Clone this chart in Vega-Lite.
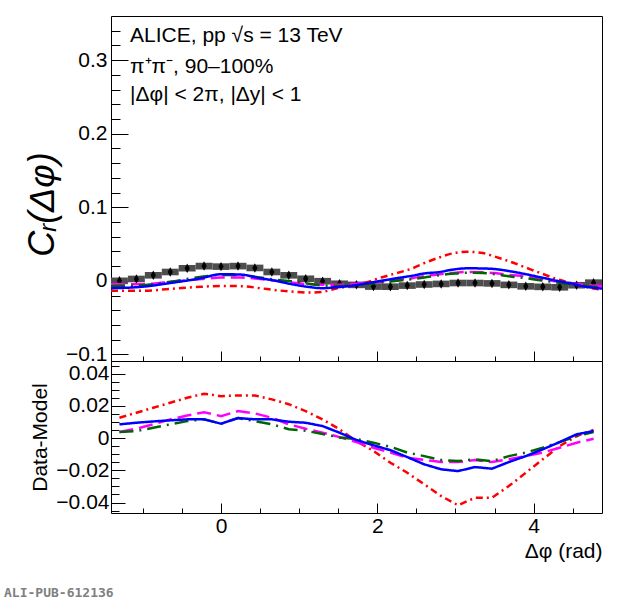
{
  "$schema": "https://vega.github.io/schema/vega-lite/v6.json",
  "description": "ALICE pp 13 TeV, pi+pi- 90-100%: C_R(dphi) with model curves and data-model residuals.",
  "padding": {"left": 4, "top": 15, "right": 19, "bottom": 5},
  "title": {
    "text": "ALI-PUB-612136",
    "orient": "bottom",
    "anchor": "start",
    "font": "DejaVu Sans Mono",
    "fontWeight": "bold",
    "fontSize": 13,
    "color": "#808080",
    "offset": 25,
    "dx": -20
  },
  "datasets": {
    "pts": [
      {"phi": -1.300, "b0": -1.408, "b1": -1.192, "c": 0.0, "slo": -0.0045, "shi": 0.0045, "elo": -0.0035, "ehi": 0.0035},
      {"phi": -1.083, "b0": -1.192, "b1": -0.975, "c": 0.0025, "slo": -0.002, "shi": 0.007, "elo": -0.001, "ehi": 0.006},
      {"phi": -0.867, "b0": -0.975, "b1": -0.758, "c": 0.0075, "slo": 0.003, "shi": 0.012, "elo": 0.004, "ehi": 0.011},
      {"phi": -0.650, "b0": -0.758, "b1": -0.542, "c": 0.012, "slo": 0.0075, "shi": 0.0165, "elo": 0.0085, "ehi": 0.0155},
      {"phi": -0.433, "b0": -0.542, "b1": -0.325, "c": 0.017, "slo": 0.0125, "shi": 0.0215, "elo": 0.0135, "ehi": 0.0205},
      {"phi": -0.217, "b0": -0.325, "b1": -0.108, "c": 0.020, "slo": 0.0155, "shi": 0.0245, "elo": 0.0165, "ehi": 0.0235},
      {"phi": 0.000, "b0": -0.108, "b1": 0.108, "c": 0.0193, "slo": 0.0148, "shi": 0.0238, "elo": 0.0158, "ehi": 0.0228},
      {"phi": 0.217, "b0": 0.108, "b1": 0.325, "c": 0.020, "slo": 0.0155, "shi": 0.0245, "elo": 0.0165, "ehi": 0.0235},
      {"phi": 0.433, "b0": 0.325, "b1": 0.542, "c": 0.0175, "slo": 0.013, "shi": 0.022, "elo": 0.014, "ehi": 0.021},
      {"phi": 0.650, "b0": 0.542, "b1": 0.758, "c": 0.012, "slo": 0.0075, "shi": 0.0165, "elo": 0.0085, "ehi": 0.0155},
      {"phi": 0.867, "b0": 0.758, "b1": 0.975, "c": 0.0075, "slo": 0.003, "shi": 0.012, "elo": 0.004, "ehi": 0.011},
      {"phi": 1.083, "b0": 0.975, "b1": 1.192, "c": 0.0028, "slo": -0.0017, "shi": 0.0073, "elo": -0.0007, "ehi": 0.0063},
      {"phi": 1.300, "b0": 1.192, "b1": 1.408, "c": -0.0005, "slo": -0.005, "shi": 0.004, "elo": -0.004, "ehi": 0.003},
      {"phi": 1.517, "b0": 1.408, "b1": 1.625, "c": -0.004, "slo": -0.0085, "shi": 0.0005, "elo": -0.0075, "ehi": -0.0005},
      {"phi": 1.733, "b0": 1.625, "b1": 1.842, "c": -0.0055, "slo": -0.010, "shi": -0.001, "elo": -0.009, "ehi": -0.002},
      {"phi": 1.950, "b0": 1.842, "b1": 2.058, "c": -0.0078, "slo": -0.0123, "shi": -0.0033, "elo": -0.0113, "ehi": -0.0043},
      {"phi": 2.167, "b0": 2.058, "b1": 2.275, "c": -0.008, "slo": -0.0125, "shi": -0.0035, "elo": -0.0115, "ehi": -0.0045},
      {"phi": 2.383, "b0": 2.275, "b1": 2.492, "c": -0.0065, "slo": -0.011, "shi": -0.002, "elo": -0.010, "ehi": -0.003},
      {"phi": 2.600, "b0": 2.492, "b1": 2.708, "c": -0.005, "slo": -0.0095, "shi": -0.0005, "elo": -0.0085, "ehi": -0.0015},
      {"phi": 2.817, "b0": 2.708, "b1": 2.925, "c": -0.0042, "slo": -0.0087, "shi": 0.0003, "elo": -0.0077, "ehi": -0.0007},
      {"phi": 3.033, "b0": 2.925, "b1": 3.142, "c": -0.003, "slo": -0.0075, "shi": 0.0015, "elo": -0.0065, "ehi": 0.0005},
      {"phi": 3.250, "b0": 3.142, "b1": 3.358, "c": -0.003, "slo": -0.0075, "shi": 0.0015, "elo": -0.0065, "ehi": 0.0005},
      {"phi": 3.467, "b0": 3.358, "b1": 3.575, "c": -0.0035, "slo": -0.008, "shi": 0.001, "elo": -0.007, "ehi": 0.0},
      {"phi": 3.683, "b0": 3.575, "b1": 3.792, "c": -0.0055, "slo": -0.010, "shi": -0.001, "elo": -0.009, "ehi": -0.002},
      {"phi": 3.900, "b0": 3.792, "b1": 4.008, "c": -0.0075, "slo": -0.012, "shi": -0.003, "elo": -0.011, "ehi": -0.004},
      {"phi": 4.117, "b0": 4.008, "b1": 4.225, "c": -0.0082, "slo": -0.0127, "shi": -0.0037, "elo": -0.0117, "ehi": -0.0047},
      {"phi": 4.333, "b0": 4.225, "b1": 4.442, "c": -0.0088, "slo": -0.0133, "shi": -0.0043, "elo": -0.0123, "ehi": -0.0053},
      {"phi": 4.550, "b0": 4.442, "b1": 4.658, "c": -0.006, "slo": -0.0105, "shi": -0.0015, "elo": -0.0095, "ehi": -0.0025},
      {"phi": 4.767, "b0": 4.658, "b1": 4.875, "c": -0.0025, "slo": -0.007, "shi": 0.002, "elo": -0.006, "ehi": 0.001}
    ],
    "models": [
      {"phi": -1.408, "m1": -0.0136, "m2": -0.0045, "m3": -0.007, "m4": -0.010},
      {"phi": -1.0, "m1": -0.0136, "m2": -0.0045, "m3": -0.006, "m4": -0.008},
      {"phi": -0.65, "m1": -0.011, "m2": -0.0014, "m3": -0.0014, "m4": -0.003},
      {"phi": -0.25, "m1": -0.008, "m2": 0.0023, "m3": 0.0055, "m4": 0.0036},
      {"phi": 0.0, "m1": -0.007, "m2": 0.0045, "m3": 0.008, "m4": 0.009},
      {"phi": 0.25, "m1": -0.0073, "m2": 0.0045, "m3": 0.0077, "m4": 0.0085},
      {"phi": 0.5, "m1": -0.010, "m2": 0.0023, "m3": 0.0045, "m4": 0.0036},
      {"phi": 0.7, "m1": -0.0127, "m2": 0.0, "m3": 0.0015, "m4": 0.0},
      {"phi": 0.9, "m1": -0.0145, "m2": -0.0023, "m3": -0.0005, "m4": -0.0045},
      {"phi": 1.1, "m1": -0.016, "m2": -0.0045, "m3": -0.0036, "m4": -0.008},
      {"phi": 1.3, "m1": -0.015, "m2": -0.0055, "m3": -0.006, "m4": -0.010},
      {"phi": 1.45, "m1": -0.011, "m2": -0.0055, "m3": -0.007, "m4": -0.009},
      {"phi": 1.65, "m1": -0.007, "m2": -0.0045, "m3": -0.007, "m4": -0.007},
      {"phi": 1.85, "m1": -0.0023, "m2": -0.0027, "m3": -0.0045, "m4": -0.0036},
      {"phi": 2.05, "m1": 0.0045, "m2": -0.0014, "m3": -0.0023, "m4": 0.0},
      {"phi": 2.25, "m1": 0.0105, "m2": 0.001, "m3": 0.0, "m4": 0.0036},
      {"phi": 2.45, "m1": 0.017, "m2": 0.0036, "m3": 0.0023, "m4": 0.007},
      {"phi": 2.6, "m1": 0.024, "m2": 0.0064, "m3": 0.0045, "m4": 0.010},
      {"phi": 2.8, "m1": 0.032, "m2": 0.009, "m3": 0.0077, "m4": 0.012},
      {"phi": 2.95, "m1": 0.037, "m2": 0.0105, "m3": 0.0095, "m4": 0.015},
      {"phi": 3.15, "m1": 0.0395, "m2": 0.012, "m3": 0.011, "m4": 0.017},
      {"phi": 3.35, "m1": 0.0377, "m2": 0.0115, "m3": 0.0105, "m4": 0.0168},
      {"phi": 3.5, "m1": 0.033, "m2": 0.0105, "m3": 0.009, "m4": 0.016},
      {"phi": 3.7, "m1": 0.026, "m2": 0.008, "m3": 0.006, "m4": 0.013},
      {"phi": 3.9, "m1": 0.018, "m2": 0.006, "m3": 0.0036, "m4": 0.009},
      {"phi": 4.1, "m1": 0.010, "m2": 0.0025, "m3": 0.0005, "m4": 0.0045},
      {"phi": 4.3, "m1": 0.0023, "m2": -0.001, "m3": -0.0023, "m4": 0.0},
      {"phi": 4.5, "m1": -0.0036, "m2": -0.0035, "m3": -0.005, "m4": -0.004},
      {"phi": 4.65, "m1": -0.008, "m2": -0.0055, "m3": -0.007, "m4": -0.0077},
      {"phi": 4.875, "m1": -0.012, "m2": -0.007, "m3": -0.009, "m4": -0.0105}
    ],
    "diff": [
      {"phi": -1.300, "m1": 0.0126, "m2": 0.0037, "m3": 0.0037, "m4": 0.0085},
      {"phi": -1.083, "m1": 0.0157, "m2": 0.0058, "m3": 0.0043, "m4": 0.0095},
      {"phi": -0.867, "m1": 0.0188, "m2": 0.0085, "m3": 0.0064, "m4": 0.0103},
      {"phi": -0.650, "m1": 0.0219, "m2": 0.0116, "m3": 0.0085, "m4": 0.011},
      {"phi": -0.433, "m1": 0.025, "m2": 0.014, "m3": 0.0105, "m4": 0.0116},
      {"phi": -0.217, "m1": 0.0275, "m2": 0.016, "m3": 0.0116, "m4": 0.0116},
      {"phi": 0.000, "m1": 0.026, "m2": 0.0136, "m3": 0.0089, "m4": 0.0089},
      {"phi": 0.217, "m1": 0.0264, "m2": 0.0167, "m3": 0.0124, "m4": 0.0124},
      {"phi": 0.433, "m1": 0.0264, "m2": 0.0153, "m3": 0.0105, "m4": 0.0116},
      {"phi": 0.650, "m1": 0.024, "m2": 0.0126, "m3": 0.0085, "m4": 0.0116},
      {"phi": 0.867, "m1": 0.021, "m2": 0.0085, "m3": 0.0055, "m4": 0.0101},
      {"phi": 1.083, "m1": 0.0167, "m2": 0.0058, "m3": 0.0045, "m4": 0.0095},
      {"phi": 1.300, "m1": 0.0116, "m2": 0.0033, "m3": 0.0025, "m4": 0.0074},
      {"phi": 1.517, "m1": 0.0054, "m2": 0.0006, "m3": 0.0004, "m4": 0.0033},
      {"phi": 1.733, "m1": -0.002, "m2": -0.0025, "m3": -0.0006, "m4": -0.0012},
      {"phi": 1.950, "m1": -0.008, "m2": -0.006, "m3": -0.0029, "m4": -0.0045},
      {"phi": 2.167, "m1": -0.0153, "m2": -0.009, "m3": -0.0054, "m4": -0.0075},
      {"phi": 2.383, "m1": -0.0215, "m2": -0.0122, "m3": -0.009, "m4": -0.0118},
      {"phi": 2.600, "m1": -0.0287, "m2": -0.0136, "m3": -0.0112, "m4": -0.0163},
      {"phi": 2.817, "m1": -0.036, "m2": -0.0149, "m3": -0.0136, "m4": -0.0194},
      {"phi": 3.033, "m1": -0.0417, "m2": -0.0149, "m3": -0.0143, "m4": -0.0205},
      {"phi": 3.250, "m1": -0.037, "m2": -0.0136, "m3": -0.0132, "m4": -0.018},
      {"phi": 3.467, "m1": -0.037, "m2": -0.0149, "m3": -0.0143, "m4": -0.019},
      {"phi": 3.683, "m1": -0.0298, "m2": -0.0132, "m3": -0.0112, "m4": -0.0149},
      {"phi": 3.900, "m1": -0.0215, "m2": -0.0112, "m3": -0.009, "m4": -0.0112},
      {"phi": 4.117, "m1": -0.0132, "m2": -0.009, "m3": -0.006, "m4": -0.007},
      {"phi": 4.333, "m1": -0.005, "m2": -0.006, "m3": -0.0025, "m4": -0.0025},
      {"phi": 4.550, "m1": 0.0012, "m2": -0.0029, "m3": 0.0012, "m4": 0.0023},
      {"phi": 4.767, "m1": 0.005, "m2": -0.0004, "m3": 0.0037, "m4": 0.0043}
    ],
    "labels": [
      {"tx": -1.164, "ty": 0.324, "label": "ALICE, pp √s = 13 TeV"},
      {"tx": -1.164, "ty": 0.283, "label": "π⁺π⁻, 90–100%"},
      {"tx": -1.164, "ty": 0.245, "label": "|Δφ| < 2π, |Δy| < 1"}
    ]
  },
  "spacing": 0,
  "bounds": "flush",
  "vconcat": [
    {
      "width": 491,
      "height": 345,
      "resolve": {"axis": {"x": "independent", "y": "independent"}},
      "layer": [
        {
          "data": {"name": "pts"},
          "mark": {"type": "rect", "fill": "#4d4d4d"},
          "encoding": {
            "x": {"field": "b0", "type": "quantitative",
                  "scale": {"domain": [-1.408, 4.875], "nice": false, "zero": false},
                  "axis": {"orient": "bottom", "values": [0, 2, 4], "offset": -10, "tickSize": 10, "labels": false, "title": null}},
            "x2": {"field": "b1"},
            "y": {"field": "slo", "type": "quantitative",
                  "scale": {"domain": [-0.109, 0.36], "nice": false, "zero": false},
                  "axis": {"orient": "left", "values": [-0.1, 0, 0.1, 0.2, 0.3], "format": "~g", "offset": -17, "tickSize": 17,
                           "labelPadding": 4, "title": "Cᵣ(Δφ)", "titleFontSize": 36, "titleFontStyle": "italic", "titlePadding": 4, "titleY": 188}},
            "y2": {"field": "shi"}
          }
        },
        {
          "data": {"name": "pts"},
          "mark": {"type": "rule", "color": "black", "strokeWidth": 1.5},
          "encoding": {
            "x": {"field": "phi", "type": "quantitative",
                  "axis": {"orient": "bottom", "values": [-1, -0.5, 0.5, 1, 1.5, 2.5, 3, 3.5, 4.5], "offset": -5, "tickSize": 5, "labels": false, "title": null}},
            "y": {"field": "elo", "type": "quantitative",
                  "axis": {"orient": "left", "values": [-0.08, -0.06, -0.04, -0.02, 0.02, 0.04, 0.06, 0.08, 0.12, 0.14, 0.16, 0.18, 0.22, 0.24, 0.26, 0.28, 0.32, 0.34],
                           "offset": -9, "tickSize": 9, "labels": false, "title": null}},
            "y2": {"field": "ehi"}
          }
        },
        {
          "data": {"name": "pts"},
          "mark": {"type": "point", "shape": "M0,-1L0.55,0L0,1L-0.55,0Z", "filled": true, "color": "black", "opacity": 1, "size": 90},
          "encoding": {
            "x": {"field": "phi", "type": "quantitative", "axis": null},
            "y": {"field": "c", "type": "quantitative", "axis": null}
          }
        },
        {
          "data": {"name": "models"},
          "transform": [{"fold": ["m1", "m2", "m3", "m4"], "as": ["model", "v"]}],
          "mark": {"type": "line", "strokeWidth": 2.5, "interpolate": "monotone"},
          "encoding": {
            "x": {"field": "phi", "type": "quantitative", "axis": null},
            "y": {"field": "v", "type": "quantitative", "axis": null},
            "color": {"field": "model", "type": "nominal", "legend": null,
                      "scale": {"domain": ["m1", "m2", "m3", "m4"], "range": ["#ff0000", "#ff00ff", "#006400", "#0000ff"]}},
            "strokeDash": {"field": "model", "type": "nominal", "legend": null,
                           "scale": {"domain": ["m1", "m2", "m3", "m4"], "range": [[7, 4, 2, 4], [14, 6], [14, 6, 2, 6], [1, 0]]}}
          }
        },
        {
          "data": {"name": "labels"},
          "mark": {"type": "text", "align": "left", "baseline": "alphabetic", "fontSize": 21, "font": "Liberation Sans", "color": "black"},
          "encoding": {
            "x": {"field": "tx", "type": "quantitative", "axis": null},
            "y": {"field": "ty", "type": "quantitative", "axis": null},
            "text": {"field": "label"}
          }
        }
      ]
    },
    {
      "width": 491,
      "height": 152,
      "resolve": {"axis": {"x": "independent", "y": "independent"}},
      "layer": [
        {
          "mark": {"type": "rule", "color": "black", "strokeWidth": 1, "strokeDash": [3, 3]},
          "encoding": {
            "y": {"datum": 0, "type": "quantitative",
                  "scale": {"domain": [-0.0465, 0.0478], "nice": false, "zero": false},
                  "axis": {"orient": "left", "values": [-0.04, -0.02, 0, 0.02, 0.04], "format": "~g", "offset": -14, "tickSize": 14,
                           "labelPadding": 2, "title": "Data-Model", "titlePadding": 5}}
          }
        },
        {
          "data": {"name": "diff"},
          "transform": [{"fold": ["m1", "m2"], "as": ["model", "d"]}],
          "mark": {"type": "line", "strokeWidth": 2.5},
          "encoding": {
            "x": {"field": "phi", "type": "quantitative",
                  "scale": {"domain": [-1.408, 4.875], "nice": false, "zero": false},
                  "axis": {"orient": "bottom", "values": [0, 2, 4], "format": "~g", "offset": -10, "tickSize": 10, "labelPadding": 2,
                           "title": "Δφ (rad)", "titleAnchor": "end", "titlePadding": 4}},
            "y": {"field": "d", "type": "quantitative",
                  "axis": {"orient": "left", "values": [-0.045, -0.035, -0.03, -0.025, -0.015, -0.01, -0.005, 0.005, 0.01, 0.015, 0.025, 0.03, 0.035, 0.045],
                           "offset": -8, "tickSize": 8, "labels": false, "title": null}},
            "color": {"field": "model", "type": "nominal", "legend": null,
                      "scale": {"domain": ["m1", "m2", "m3", "m4"], "range": ["#ff0000", "#ff00ff", "#006400", "#0000ff"]}},
            "strokeDash": {"field": "model", "type": "nominal", "legend": null,
                           "scale": {"domain": ["m1", "m2", "m3", "m4"], "range": [[7, 4, 2, 4], [14, 6], [14, 6, 2, 6], [1, 0]]}}
          }
        },
        {
          "data": {"name": "diff"},
          "transform": [{"fold": ["m3", "m4"], "as": ["model", "d"]}],
          "mark": {"type": "line", "strokeWidth": 2.5},
          "encoding": {
            "x": {"field": "phi", "type": "quantitative",
                  "axis": {"orient": "bottom", "values": [-1, -0.5, 0.5, 1, 1.5, 2.5, 3, 3.5, 4.5], "offset": -5, "tickSize": 5, "labels": false, "title": null}},
            "y": {"field": "d", "type": "quantitative", "axis": null},
            "color": {"field": "model", "type": "nominal", "legend": null},
            "strokeDash": {"field": "model", "type": "nominal", "legend": null}
          }
        }
      ]
    }
  ],
  "config": {
    "font": "Liberation Sans",
    "view": {"stroke": "black", "strokeWidth": 1},
    "axis": {
      "grid": false,
      "domain": false,
      "labelFont": "Liberation Sans",
      "titleFont": "Liberation Sans",
      "labelFontSize": 21,
      "titleFontSize": 21,
      "titleFontWeight": "normal",
      "labelColor": "black",
      "titleColor": "black",
      "tickColor": "black",
      "tickWidth": 1
    }
  }
}
